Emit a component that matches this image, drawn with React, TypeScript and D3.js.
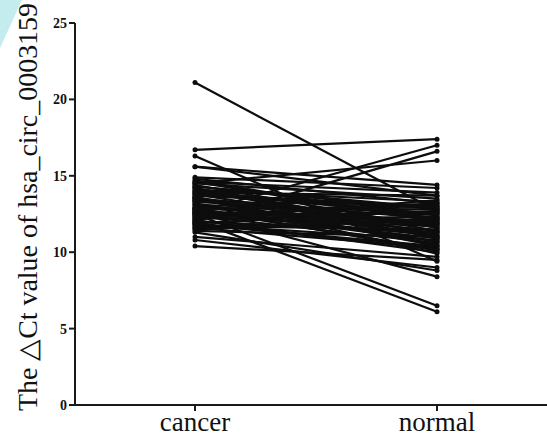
import React from "react";
import * as d3 from "d3";

// Groups on the x axis
const groups = ["cancer", "normal"];

// Paired ΔCt values per patient: cancer tissue vs. matched normal tissue
const cancerValues = [
  21.1, 16.7, 16.3, 15.6, 15.6, 14.9, 12.6, 12.0, 14.5, 12.5, 12.1, 12.6, 11.3, 10.8, 10.4, 11.0,
  14.8, 14.7, 14.6, 14.4, 14.3, 14.2, 14.1, 13.9, 13.8, 13.7, 13.6, 13.5, 13.4, 13.3, 13.2, 13.1,
  13.0, 12.9, 12.8, 12.8, 12.7, 12.6, 12.5, 12.4, 12.3, 12.2, 12.1, 12.0, 11.9, 11.8, 11.7, 11.6,
  11.5, 11.4, 13.9, 14.5, 12.2, 13.6, 12.9, 14.0,
  14.6, 14.2, 13.8, 13.5, 13.3, 13.1, 12.9, 12.7, 12.5, 12.3, 12.0, 11.8, 11.6, 13.4, 14.0, 12.8,
  13.6, 12.4, 11.9, 14.3,
];
const normalValues = [
  12.7, 17.4, 9.4, 14.4, 13.7, 14.2, 17.0, 16.6, 16.0, 6.5, 6.1, 8.4, 8.8, 9.0, 9.5, 9.7,
  13.2, 12.1, 13.9, 11.6, 12.8, 10.9, 13.3, 12.4, 11.2, 12.9, 10.4, 12.2, 11.8, 13.1, 10.7, 12.6,
  11.4, 12.0, 10.2, 13.0, 11.9, 11.1, 12.5, 10.6, 11.7, 12.3, 10.0, 11.3, 12.7, 10.8, 11.5, 10.3,
  12.1, 11.0, 13.7, 13.5, 13.4, 9.9, 10.1, 11.6,
  12.0, 11.4, 13.0, 10.5, 12.3, 11.1, 12.8, 10.9, 11.8, 12.6, 11.3, 10.4, 12.2, 11.9, 12.5, 10.7,
  11.0, 13.2, 10.2, 12.9,
];

// Y axis ticks
const yTicks = [0, 5, 10, 15, 20, 25];

const W = 547;
const H = 436;
const axisX = 75;
const axisColor = "#1a1a1a";

export default function App() {
  const y = d3.scaleLinear().domain([0, 25]).range([405, 23]);
  const x = d3.scalePoint<string>().domain(groups).range([195, 437]);

  const pairs = cancerValues.map((c, i) => [c, normalValues[i]] as [number, number]);
  const line = d3
    .line<[string, number]>()
    .x((d) => x(d[0]) as number)
    .y((d) => y(d[1]));

  return (
    <svg
      width={W}
      height={H}
      style={{ position: "absolute", left: 0, top: 0, background: "#fff" }}
    >
      {/* corner decoration */}
      <polygon points="0,0 22,0 0,48" fill="#c4ebee" />

      {/* paired lines */}
      <g>
        {pairs.map((p, i) => (
          <path
            key={i}
            d={line([
              [groups[0], p[0]],
              [groups[1], p[1]],
            ]) as string}
            fill="none"
            stroke="#0d0d0d"
            strokeWidth={2.2}
          />
        ))}
      </g>
      <g fill="#0d0d0d">
        {pairs.map((p, i) => (
          <g key={i}>
            <circle cx={x(groups[0])} cy={y(p[0])} r={2.5} />
            <circle cx={x(groups[1])} cy={y(p[1])} r={2.5} />
          </g>
        ))}
      </g>

      {/* y axis */}
      <line x1={axisX} x2={axisX} y1={y(25)} y2={y(0)} stroke={axisColor} strokeWidth={2} />
      {yTicks.map((t) => (
        <g key={t}>
          <line x1={axisX - 6} x2={axisX} y1={y(t)} y2={y(t)} stroke={axisColor} strokeWidth={2} />
          <text
            x={axisX - 8}
            y={y(t)}
            dy="0.36em"
            textAnchor="end"
            fontFamily="'Liberation Serif', serif"
            fontWeight="bold"
            fontSize={14}
            fill="#111"
          >
            {t}
          </text>
        </g>
      ))}

      {/* x axis */}
      <line x1={axisX} x2={W} y1={y(0)} y2={y(0)} stroke={axisColor} strokeWidth={2} />
      {groups.map((g) => (
        <g key={g}>
          <line
            x1={x(g)}
            x2={x(g)}
            y1={y(0)}
            y2={y(0) + 6}
            stroke={axisColor}
            strokeWidth={2}
          />
          <text
            x={x(g)}
            y={431}
            textAnchor="middle"
            fontFamily="'Liberation Serif', serif"
            fontSize={27}
            fill="#111"
          >
            {g}
          </text>
        </g>
      ))}

      {/* y axis title */}
      <text
        transform="translate(37,207) rotate(-90)"
        textAnchor="middle"
        fontFamily="'Liberation Serif', serif"
        fontSize={27}
        fill="#111"
        textLength={408}
        lengthAdjust="spacingAndGlyphs"
      >
        The △Ct value of hsa_circ_0003159
      </text>
    </svg>
  );
}
